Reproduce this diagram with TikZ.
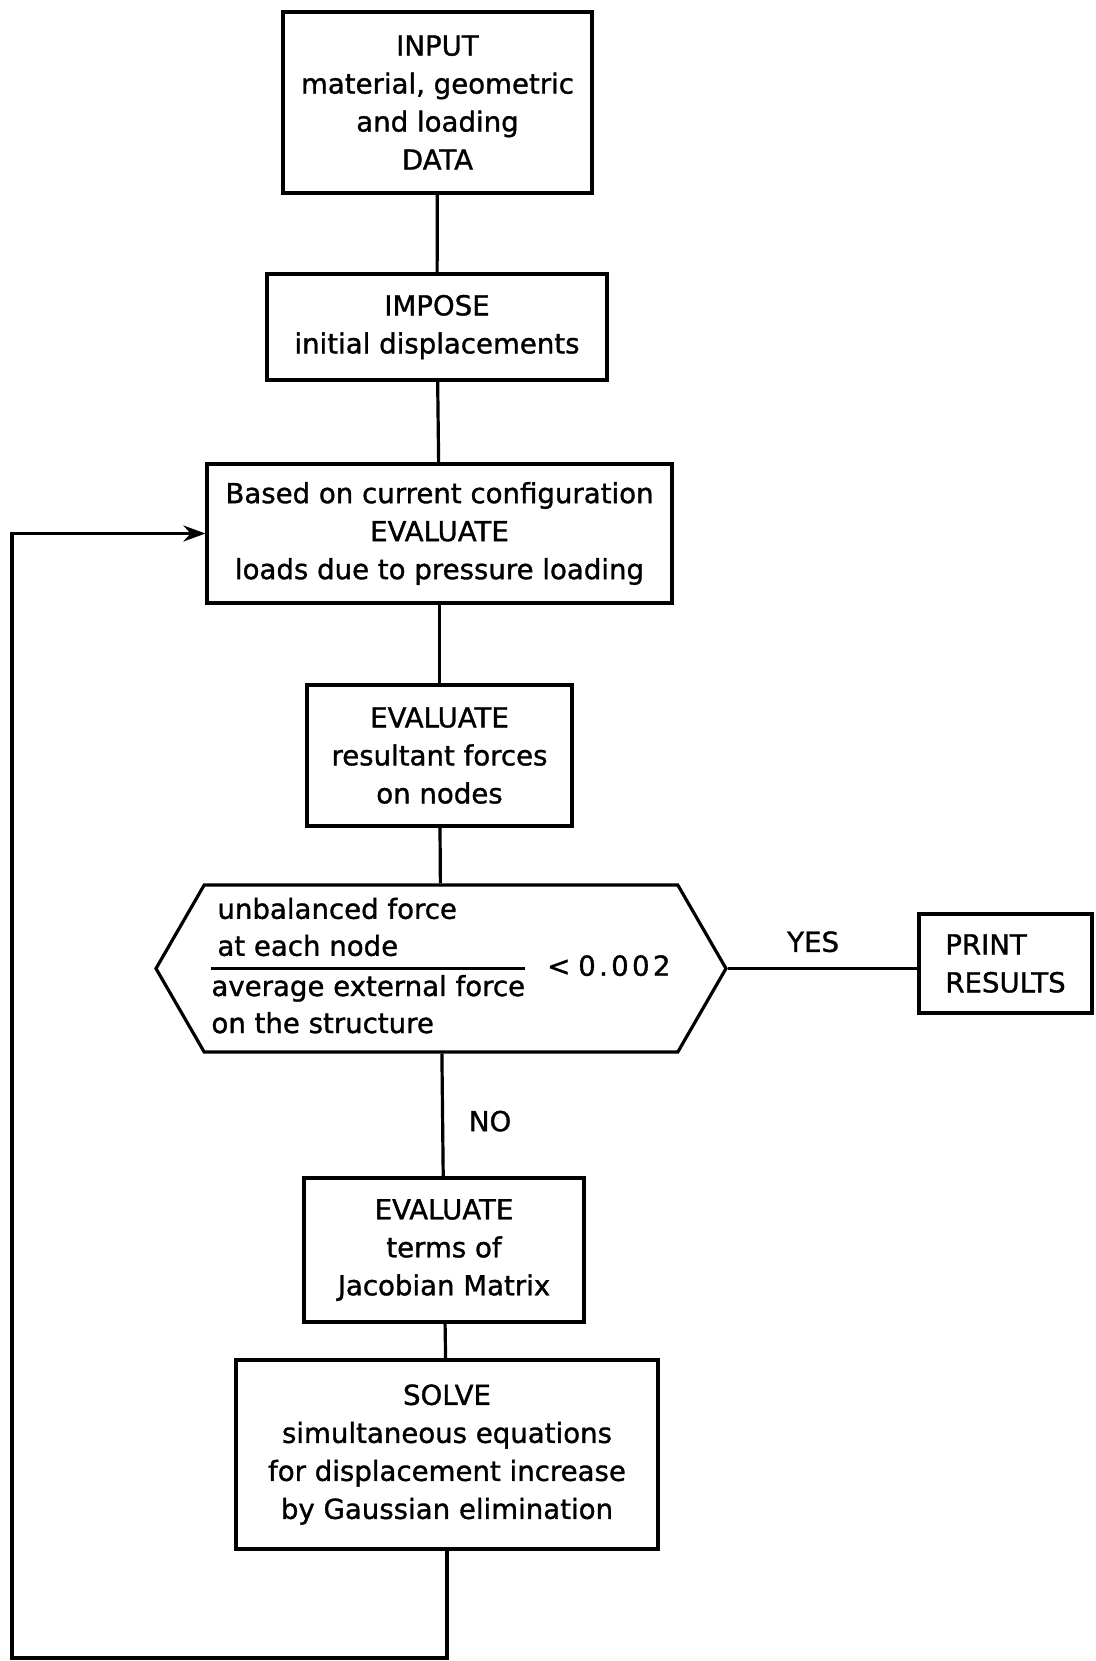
\documentclass[tikz,border=0pt]{standalone}
\usepackage{fontspec}
\setmainfont{DejaVu Sans}[FakeBold=1.2]
\usetikzlibrary{arrows.meta,shapes.symbols}
\begin{document}
\begin{tikzpicture}[
        x=0.5pt, y=-0.5pt,
        box/.style={rectangle, draw, line width=1.6pt, align=center, inner sep=0pt, font=\fontsize{13.8}{19}\selectfont},
        decision/.style={signal, signal to=west and east, signal pointer angle=120, draw, line width=1.6pt, inner sep=0pt, font=\fontsize{13.8}{18.5}\selectfont},
        link/.style={line width=1.6pt},
        arrow/.style={->, >={Stealth[length=11pt,width=8pt]}, line width=1.6pt}
    ]
    \useasboundingbox (0,0) rectangle (1096,1661);
    \node[box, minimum width=154.5pt, minimum height=90.5pt] (input) at (437.5,102.5) {INPUT\\material, geometric\\and loading\\DATA};
    \node[box, minimum width=170pt, minimum height=53pt] (impose) at (437,327) {IMPOSE\\initial displacements};
    \node[box, minimum width=232.5pt, minimum height=69.5pt] (based) at (439.5,533.5) {Based on current configuration\\EVALUATE\\loads due to pressure loading};
    \node[box, minimum width=132.5pt, minimum height=70.5pt] (evalf) at (439.5,755.5) {EVALUATE\\resultant forces\\on nodes};
    \node[decision, minimum width=285pt, minimum height=83.5pt] (test) at (441,968.5) {\setlength{\arrayrulewidth}{1.6pt}\begin{tabular}{@{}l@{}}\hspace{3pt}unbalanced force\\ \hspace{3pt}at each node\\ \hline average external force\\ on the structure\end{tabular}\hspace{0.8em}<\hspace{4pt}{\addfontfeature{LetterSpace=12}0.002}};
    \node[box, align=left, minimum width=86.5pt, minimum height=49.5pt] (print) at (1005.5,963.5) {PRINT\\RESULTS};
    \node[box, minimum width=140pt, minimum height=72pt] (evalj) at (444,1250) {EVALUATE\\terms of\\Jacobian Matrix};
    \node[box, minimum width=211pt, minimum height=94.5pt] (solve) at (447,1454.5) {SOLVE\\simultaneous equations\\for displacement increase\\by Gaussian elimination};
    \coordinate (loopcorner) at (12,1658);
    \draw[link] (input) -- (impose);
    \draw[link] (impose) -- (based);
    \draw[link] (based) -- (evalf);
    \draw[link] (evalf) -- (test);
    \draw[link] (test.east) -- node[above=4pt, pos=0.45, font=\fontsize{13.8}{19}\selectfont] {YES} (test.east -| print.west);
    \draw[link] (test) -- node[right=9pt, pos=0.55, font=\fontsize{13.8}{19}\selectfont] {NO} (evalj);
    \draw[link] (evalj) -- (solve);
    \draw[arrow] (solve.south) |- (loopcorner) |- (based.west);
\end{tikzpicture}
\end{document}
